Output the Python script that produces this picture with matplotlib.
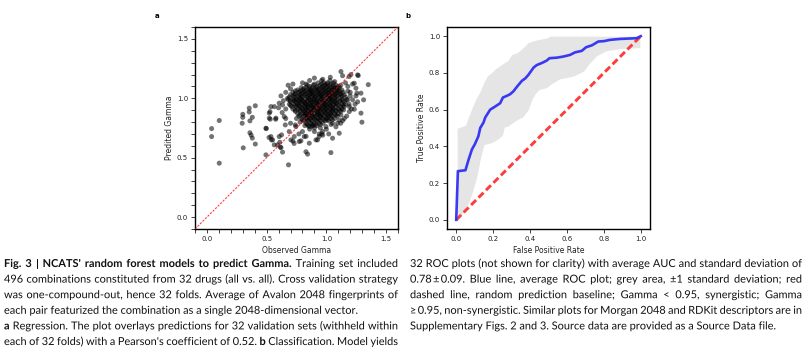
import matplotlib
matplotlib.use("Agg")
import matplotlib.pyplot as plt
from matplotlib.ticker import MultipleLocator
from matplotlib.textpath import TextPath, text_to_path
from matplotlib.patches import PathPatch
from matplotlib.font_manager import FontProperties
from matplotlib.transforms import Affine2D

W, H = 805, 356

# -- panel a: sparse points read one by one (observed, predicted)
sparse_obs = [0.103, 0.039, 0.039, 0.103, 0.30, 0.30, 0.295, 0.304,
              0.354, 0.354, 0.36, 0.38, 0.405, 0.36, 0.37, 0.38, 0.405,
              0.494, 0.494, 0.522, 0.528, 0.536, 0.522, 0.578, 0.564, 0.605,
              0.633, 0.675, 0.74, 0.745, 0.53, 0.575, 0.497,
              0.536, 0.55, 0.564, 0.605, 0.61, 0.62, 0.633, 0.647, 0.66, 0.656,
              0.70, 0.74, 0.52, 0.54, 0.591, 0.614, 0.625, 0.689, 0.703, 0.731,
              0.683, 0.72, 0.73, 0.787, 0.77, 0.815, 0.83, 0.857, 0.843, 0.829,
              0.80, 0.857, 0.88, 0.90, 0.773, 0.745,
              0.913, 0.94, 0.968, 0.926, 0.94, 0.97, 0.997, 1.052, 1.108, 1.15,
              1.122, 1.136, 1.094, 1.052, 1.038, 1.108,
              1.192, 1.29, 1.298, 1.192, 1.234, 1.144, 1.262, 1.22, 1.312,
              1.248, 1.29, 1.256, 1.248, 1.234, 1.351, 1.267, 1.206, 1.122,
              1.136, 1.033, 0.96, 1.262, 1.178, 1.20, 1.18, 1.19]
sparse_pred = [0.813, 0.745, 0.678, 0.454, 0.865, 0.84, 0.79, 0.583,
               0.917, 0.885, 0.81, 0.84, 0.937, 0.71, 0.69, 0.665, 0.615,
               0.748, 0.524, 0.833, 0.888, 0.93, 0.875, 0.833, 0.93, 0.959,
               0.944, 1.00, 1.062, 0.987, 0.824, 0.824, 0.745,
               0.678, 0.65, 0.608, 0.678, 0.63, 0.585, 0.547, 0.846, 0.83, 0.776,
               0.79, 0.776, 0.67, 0.65, 0.608, 0.589, 0.692, 0.72, 0.65, 0.678,
               0.44, 0.64, 0.62, 0.642, 0.70, 0.678, 0.68, 0.622, 0.53, 0.55,
               0.72, 0.76, 0.765, 0.75, 0.636, 0.762,
               0.65, 0.70, 0.72, 0.65, 0.678, 0.69, 0.762, 0.79, 0.818, 0.83,
               0.86, 0.812, 0.79, 0.664, 0.543, 0.706,
               0.888, 0.875, 0.799, 0.93, 0.908, 0.902, 0.97, 0.987, 0.987,
               1.02, 1.043, 1.043, 1.085, 1.127, 1.115, 1.191, 1.20, 1.225,
               1.19, 1.177, 1.149, 1.197, 0.987, 1.05, 1.10, 1.183]

# -- panel a: points on the ragged rim of the dense cloud
edge_obs = [0.62, 0.66, 0.70, 0.64, 0.68, 0.72, 0.60, 0.63, 0.66,
            0.80, 0.86, 0.90, 0.97, 1.03, 1.07, 0.83,
            1.18, 1.20, 1.19, 1.21, 1.17, 1.22, 1.16, 1.24,
            0.86, 0.90, 0.95, 1.00, 1.04, 1.08, 0.82, 0.78, 0.75, 1.12, 0.96, 1.02]
edge_pred = [1.02, 1.05, 1.08, 0.98, 1.11, 1.12, 0.92, 0.88, 0.91,
             1.13, 1.15, 1.17, 1.16, 1.15, 1.14, 1.12,
             1.06, 1.02, 0.95, 0.91, 0.85, 1.12, 1.13, 0.95,
             0.74, 0.72, 0.75, 0.74, 0.78, 0.76, 0.77, 0.80, 0.83, 0.79, 0.70, 0.70]

# -- panel a: dense core, one row of observed values per predicted level
core_pred = [1.13, 1.11, 1.09, 1.07, 1.05, 1.03, 1.01, 0.99, 0.97, 0.95,
             0.93, 0.91, 0.89, 0.87, 0.85, 0.83, 0.81, 0.79, 0.77,
             1.00, 0.96, 0.92, 0.88, 0.84,
             1.12, 1.10, 1.08, 1.06, 1.04, 1.02, 0.98, 0.94, 0.90, 0.86,
             0.82, 0.78]
core_obs = [
    [0.93, 0.98, 1.01, 1.06],
    [0.84, 0.89, 0.95, 0.99, 1.03, 1.08, 1.12],
    [0.79, 0.83, 0.88, 0.92, 0.96, 1.00, 1.04, 1.07, 1.11],
    [0.76, 0.80, 0.84, 0.87, 0.91, 0.94, 0.98, 1.02, 1.05, 1.09, 1.13],
    [0.72, 0.77, 0.81, 0.85, 0.88, 0.92, 0.95, 0.99, 1.02, 1.06, 1.10, 1.14],
    [0.70, 0.74, 0.78, 0.82, 0.86, 0.89, 0.93, 0.96, 1.00, 1.03, 1.07, 1.11, 1.15],
    [0.69, 0.73, 0.77, 0.80, 0.84, 0.87, 0.91, 0.94, 0.97, 1.01, 1.04, 1.08, 1.12, 1.16],
    [0.68, 0.72, 0.75, 0.79, 0.82, 0.86, 0.89, 0.92, 0.95, 0.99, 1.02, 1.05, 1.09, 1.13, 1.17],
    [0.70, 0.74, 0.78, 0.81, 0.84, 0.88, 0.91, 0.94, 0.97, 1.00, 1.04, 1.07, 1.11, 1.15],
    [0.69, 0.73, 0.76, 0.80, 0.83, 0.86, 0.90, 0.93, 0.96, 0.99, 1.02, 1.06, 1.09, 1.13, 1.16],
    [0.71, 0.75, 0.78, 0.82, 0.85, 0.88, 0.91, 0.95, 0.98, 1.01, 1.04, 1.08, 1.12, 1.15],
    [0.72, 0.76, 0.80, 0.83, 0.87, 0.90, 0.93, 0.96, 1.00, 1.03, 1.06, 1.10, 1.13],
    [0.74, 0.78, 0.81, 0.85, 0.88, 0.92, 0.95, 0.98, 1.01, 1.05, 1.08, 1.12],
    [0.76, 0.80, 0.83, 0.86, 0.90, 0.93, 0.96, 1.00, 1.03, 1.07, 1.10],
    [0.77, 0.81, 0.85, 0.88, 0.91, 0.95, 0.98, 1.02, 1.05, 1.09],
    [0.79, 0.83, 0.86, 0.90, 0.93, 0.97, 1.00, 1.04, 1.07],
    [0.81, 0.85, 0.88, 0.92, 0.95, 0.99, 1.02],
    [0.83, 0.87, 0.90, 0.94, 0.97],
    [0.85, 0.89, 0.92],
    [0.78, 0.85, 0.90, 0.96, 1.03, 1.07],
    [0.77, 0.82, 0.87, 0.92, 0.98, 1.03, 1.08],
    [0.79, 0.84, 0.89, 0.94, 0.99, 1.05],
    [0.82, 0.87, 0.93, 0.99, 1.04],
    [0.84, 0.89, 0.95, 1.01],
    [0.90, 0.96, 1.00, 1.04],
    [0.86, 0.92, 0.97, 1.01, 1.06, 1.10],
    [0.81, 0.86, 0.90, 0.94, 0.98, 1.02, 1.06, 1.09],
    [0.78, 0.82, 0.86, 0.89, 0.93, 0.97, 1.00, 1.04, 1.08, 1.11],
    [0.74, 0.79, 0.83, 0.87, 0.90, 0.94, 0.97, 1.01, 1.05, 1.08, 1.12],
    [0.72, 0.76, 0.80, 0.84, 0.88, 0.91, 0.95, 0.98, 1.02, 1.05, 1.09, 1.13],
    [0.70, 0.73, 0.77, 0.80, 0.84, 0.87, 0.90, 0.93, 0.97, 1.00, 1.04, 1.07, 1.11, 1.14],
    [0.70, 0.74, 0.77, 0.81, 0.84, 0.87, 0.89, 0.93, 0.97, 1.00, 1.03, 1.06, 1.10, 1.14],
    [0.74, 0.78, 0.82, 0.85, 0.89, 0.91, 0.95, 0.98, 1.02, 1.05, 1.08, 1.11],
    [0.78, 0.82, 0.84, 0.88, 0.92, 0.94, 0.97, 1.01, 1.04, 1.08],
    [0.80, 0.84, 0.87, 0.91, 0.94, 0.98, 1.01, 1.05],
    [0.84, 0.88, 0.91, 0.95],
]

# -- panel b: mean ROC and +-1 sd band
fpr_mean = [0, 0.009, 0.05, 0.067, 0.085, 0.10, 0.12, 0.13, 0.148, 0.157, 0.184,
            0.211, 0.238, 0.253, 0.274, 0.292, 0.31, 0.33, 0.356, 0.374, 0.39,
            0.42, 0.437, 0.464, 0.49, 0.505, 0.545, 0.58, 0.617, 0.644, 0.68,
            0.704, 0.735, 0.77, 0.80, 0.834, 0.888, 0.978, 1.0]
tpr_mean = [0, 0.265, 0.27, 0.328, 0.383, 0.41, 0.455, 0.50, 0.53, 0.557, 0.60,
            0.617, 0.635, 0.666, 0.675, 0.684, 0.70, 0.726, 0.757, 0.77, 0.788,
            0.83, 0.843, 0.854, 0.867, 0.88, 0.883, 0.889, 0.898, 0.912, 0.92,
            0.94, 0.95, 0.971, 0.973, 0.98, 0.985, 0.989, 1.0]
band_fpr = [0.005, 0.01, 0.05, 0.07, 0.09, 0.11, 0.13, 0.15, 0.17, 0.19, 0.21,
            0.23, 0.25, 0.26, 0.28, 0.30, 0.33, 0.36, 0.39, 0.41, 0.43, 0.45,
            0.49, 0.51, 0.56, 0.60, 0.64, 0.69, 0.72, 0.76, 0.81, 0.89, 0.995]
band_hi = [0.50, 0.50, 0.515, 0.57, 0.62, 0.665, 0.70, 0.75, 0.785, 0.80, 0.82,
           0.835, 0.848, 0.855, 0.868, 0.90, 0.91, 0.935, 0.965, 0.972, 0.978,
           0.982, 0.99, 1.0, 1.0, 1.0, 1.0, 1.0, 1.0, 1.0, 1.0, 1.0, 1.0]
band_lo = [0.0, 0.0, 0.06, 0.10, 0.16, 0.23, 0.33, 0.41, 0.415, 0.42, 0.43,
           0.444, 0.46, 0.505, 0.51, 0.525, 0.546, 0.56, 0.60, 0.655, 0.69,
           0.71, 0.72, 0.737, 0.768, 0.775, 0.785, 0.81, 0.85, 0.893, 0.92,
           0.933, 0.938]
baseline = [0, 1]

# -- caption, as (text, bold) segments per printed line
caption_left = [
    [("Fig. 3 | NCATS' random forest models to predict Gamma.", True),
     ("Training set included", False)],
    [("496 combinations constituted from 32 drugs (all vs. all). Cross validation strategy", False)],
    [("was one-compound-out, hence 32 folds. Average of Avalon 2048 fingerprints of", False)],
    [("each pair featurized the combination as a single 2048-dimensional vector.", False)],
    [("a", True), ("Regression. The plot overlays predictions for 32 validation sets (withheld within", False)],
    [("each of 32 folds) with a Pearson's coefficient of 0.52.", False), ("b", True),
     ("Classification. Model yields", False)],
]
caption_right = [
    [("32 ROC plots (not shown for clarity) with average AUC and standard deviation of", False)],
    [("0.78\u2009\u00b1\u20090.09. Blue line, average ROC plot; grey area, \u00b11 standard deviation; red", False)],
    [("dashed line, random prediction baseline; Gamma < 0.95, synergistic; Gamma", False)],
    [("\u2265\u20090.95, non-synergistic. Similar plots for Morgan 2048 and RDKit descriptors are in", False)],
    [("Supplementary Figs. 2 and 3. Source data are provided as a Source Data file.", False)],
]
left_justify = [True, True, True, False, True, True]
right_justify = [True, True, True, True, False]

fig = plt.figure(figsize=(W / 100, H / 100), dpi=100)

TICK = dict(labelsize=5, colors="#222222", length=3, width=0.6, pad=2)


def style_axes(ax):
    for s in ax.spines.values():
        s.set_linewidth(1.0)
    ax.tick_params(which="both", **TICK)


# -- a: regression scatter
axa = fig.add_axes([195 / W, 1 - 229 / H, 203 / W, 202 / H])
obs = list(sparse_obs) + list(edge_obs)
pred = list(sparse_pred) + list(edge_pred)
for lvl, row in zip(core_pred, core_obs):
    obs += row
    pred += [lvl] * len(row)
axa.scatter(obs, pred, s=13, color="black", alpha=0.55, edgecolors="none", zorder=2)
axa.axline((0, 0), slope=1, color="red", lw=0.8, alpha=0.75,
           linestyle=(0, (2, 1.2)), zorder=3)
axa.set_xlim(-0.1, 1.6)
axa.set_ylim(-0.1, 1.6)
axa.xaxis.set_major_locator(MultipleLocator(0.5))
axa.yaxis.set_major_locator(MultipleLocator(0.5))
axa.xaxis.set_minor_locator(MultipleLocator(0.1))
axa.yaxis.set_minor_locator(MultipleLocator(0.1))
style_axes(axa)
axa.set_xlabel("Observed Gamma", fontsize=5.5, color="#222222")
axa.set_ylabel("Predited Gamma", fontsize=5.5, color="#222222")
axa.xaxis.set_label_coords(0.5, -0.085)
axa.yaxis.set_label_coords(-0.105, 0.5)

# -- b: ROC
axb = fig.add_axes([447 / W, 1 - 229 / H, 203 / W, 202 / H])
axb.fill_between(band_fpr, band_lo, band_hi, color="#e5e5e5", lw=0, zorder=1)
axb.plot(fpr_mean, tpr_mean, color="#3030f5", lw=1.9, alpha=0.95, zorder=3)
axb.plot(baseline, baseline, color="#ff3c3c", lw=2.1, dashes=(2.4, 1.2), zorder=2)
axb.set_xlim(-0.05, 1.05)
axb.set_ylim(-0.05, 1.05)
axb.xaxis.set_major_locator(MultipleLocator(0.2))
axb.yaxis.set_major_locator(MultipleLocator(0.2))
style_axes(axb)
axb.set_xlabel("False Positive Rate", fontsize=5.5, color="#222222")
axb.set_ylabel("True Positive Rate", fontsize=5.5, color="#222222")
axb.xaxis.set_label_coords(0.5, -0.085)
axb.yaxis.set_label_coords(-0.105, 0.5)

fig.text(157 / W, 1 - 16 / H, "a", fontsize=5, fontweight="bold", ha="center", va="center")
fig.text(408 / W, 1 - 16 / H, "b", fontsize=5, fontweight="bold", ha="center", va="center")

# -- caption: words drawn as paths so the baseline stays put, lines justified
CAP_SIZE = 7.9
PX = 100 / 72


def cap_prop(s, bold):
    fam = "Lato" if s.isascii() else ["Lato", "DejaVu Sans"]
    return FontProperties(family=fam, weight="bold" if bold else "normal", size=CAP_SIZE)


def text_width(s, bold):
    w, _, _ = text_to_path.get_text_width_height_descent(s, cap_prop(s, bold), ismath=False)
    return w * PX


space_w = text_width("x x", False) - text_width("xx", False)


def draw_caption(lines, justify, x0, x1, y0, step):
    for i, (segs, just) in enumerate(zip(lines, justify)):
        words = []
        for s, bold in segs:
            words += [(w, bold) for w in s.split(" ")]
        widths = [text_width(w, b) for w, b in words]
        gap = space_w
        if just and len(words) > 1:
            gap = (x1 - x0 - sum(widths)) / (len(words) - 1)
        x = x0
        y = H - (y0 + i * step)
        for (w, b), wd in zip(words, widths):
            tp = TextPath((0, 0), w, prop=cap_prop(w, b))
            tr = Affine2D().scale(PX).translate(x, y)
            fig.add_artist(PathPatch(tp, transform=tr, color="#111111", lw=0))
            x += wd + gap


draw_caption(caption_left, left_justify, 4, 398, 267, 15.6)
draw_caption(caption_right, right_justify, 410, 802, 267, 15.6)

fig.savefig("out.png", dpi=100)
